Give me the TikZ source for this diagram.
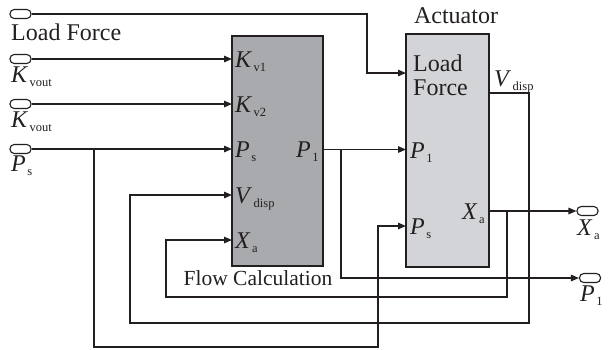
\documentclass[tikz,border=0pt]{standalone}
\usepackage{fontspec}
\setmainfont{Liberation Serif}
\usetikzlibrary{arrows.meta}
\definecolor{inkc}{HTML}{231F20}
\definecolor{darkblk}{HTML}{A9AAAD}
\definecolor{lightblk}{HTML}{D3D4D7}
\newcommand\sig[2]{\textit{#1}\hspace{1.5pt}\raisebox{-4pt}{\fontsize{12.5}{12}\selectfont #2}}
\tikzset{
  wire/.style={draw=inkc, line width=1.4pt},
  arr/.style={wire, -{Triangle[length=8pt,width=6.5pt]}},
  port/.style={draw=inkc, line width=1.1pt, rounded corners=4.2pt, minimum width=21pt, minimum height=9pt, inner sep=0pt, fill=white},
  blk/.style={draw=inkc, line width=1.4pt, inner sep=0pt},
  big/.style={font=\fontsize{24}{25}\selectfont, inner sep=0pt, text=inkc},
  mid/.style={font=\fontsize{21.5}{24}\selectfont, inner sep=0pt, text=inkc},
}
\begin{document}
\begin{tikzpicture}[x=1pt,y=-1pt]
\useasboundingbox (0,0) rectangle (615,349);
% blocks
\node[blk, fill=darkblk, minimum width=91pt, minimum height=230pt] (fc) at (277.5,151) {};
\node[blk, fill=lightblk, minimum width=83pt, minimum height=233pt] (act) at (447.5,150.5) {};
% ports
\node[port] (plf) at (20.5,14) {};
\node[port] (pk1) at (20.5,59) {};
\node[port] (pk2) at (20.5,104) {};
\node[port] (pps) at (20.5,149) {};
\node[port] (pxa) at (587.5,211) {};
\node[port] (pp1) at (590,278) {};
% port labels
\node[big, anchor=base west] (llf) at (11,40) {Load Force};
\node[big, anchor=base west] (lk1) at (11,82) {\sig{K}{vout}};
\node[big, anchor=base west] (lk2) at (11,127) {\sig{K}{vout}};
\node[big, anchor=base west] (lps) at (11,171) {\sig{P}{s}};
\node[big, anchor=base west] (lxa) at (577,235) {\sig{X}{a}};
\node[big, anchor=base west] (lp1) at (580,301) {\sig{P}{1}};
% block titles
\node[big, anchor=base] (tact) at (456,23) {Actuator};
\node[mid, anchor=base] (tfc) at (258,285) {Flow Calculation};
% flow block labels
\node[big, anchor=base west] (fk1) at (235,67) {\sig{K}{v1}};
\node[big, anchor=base west] (fk2) at (235,112) {\sig{K}{v2}};
\node[big, anchor=base west] (fps) at (235,157) {\sig{P}{s}};
\node[big, anchor=base west] (fvd) at (235,203) {\sig{V}{disp}};
\node[big, anchor=base west] (fxa) at (235,248) {\sig{X}{a}};
\node[big, anchor=base west] (fp1) at (296,157) {\sig{P}{1}};
% actuator labels
\node[big, anchor=base west, align=left] (alf1) at (413,71) {Load};
\node[big, anchor=base west, align=left] (alf2) at (413,95) {Force};
\node[big, anchor=base west] (ap1) at (410,158) {\sig{P}{1}};
\node[big, anchor=base west] (aps) at (410,234) {\sig{P}{s}};
\node[big, anchor=base west] (axa) at (462,219) {\sig{X}{a}};
\node[big, anchor=base west] (avd) at (494,86) {\sig{V}{disp}};
% coordinates
\coordinate (fcK1) at (232,59);
\coordinate (fcK2) at (232,104);
\coordinate (fcPs) at (232,149);
\coordinate (fcVd) at (232,195);
\coordinate (fcXa) at (232,240);
\coordinate (fcP1) at (323,149.5);
\coordinate (actLF) at (406,73);
\coordinate (actP1) at (406,149.5);
\coordinate (actPs) at (406,226);
\coordinate (actVd) at (489,93);
\coordinate (actXa) at (489,211);
\coordinate (lfb) at (367,14);
\coordinate (psj) at (94,149);
\coordinate (psb) at (378,347);
\coordinate (p1j) at (341,149.5);
\coordinate (vdb1) at (529,93);
\coordinate (vdb2) at (130,323);
\coordinate (xaj) at (507,211);
\coordinate (xab) at (166,297);
% wires
\draw[arr] (plf.east) -- (lfb) |- (actLF);
\draw[arr] (pk1.east) -- (fcK1);
\draw[arr] (pk2.east) -- (fcK2);
\draw[arr] (pps.east) -- (fcPs);
\draw[arr] (psj) |- (psb) |- (actPs);
\draw[arr] (fcP1) -- (actP1);
\draw[arr] (p1j) |- (pp1.west);
\draw[arr] (actVd) -- (vdb1) |- (vdb2) |- (fcVd);
\draw[arr] (actXa) -- (pxa.west);
\draw[arr] (xaj) |- (xab) |- (fcXa);
\end{tikzpicture}
\end{document}
